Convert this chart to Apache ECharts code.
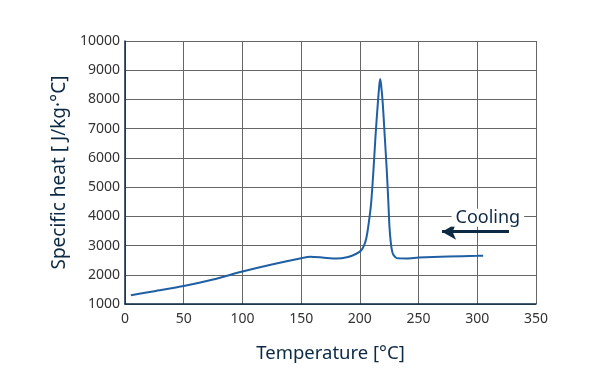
<!DOCTYPE html>
<html>
<head>
<meta charset="utf-8">
<script src="https://cdn.jsdelivr.net/npm/echarts@6/dist/echarts.min.js"></script>
<style>html,body{margin:0;padding:0;background:#fff}#c{width:600px;height:390px}</style>
</head>
<body>
<div id="c"></div>
<script>
var temperature = [5, 25, 50, 75, 100, 125, 150, 158, 168, 180, 190, 197, 201, 203.5, 205.5, 207.5, 209.6, 211.6, 213.3, 215.3, 216.6, 217.3, 218.1, 219.5, 221.2, 222.9, 224.3, 225.2, 226.4, 227.5, 228.6, 231.4, 240, 250, 275, 300, 305];
var specificHeat = [1300, 1440, 1615, 1840, 2110, 2350, 2565, 2615, 2590, 2553, 2610, 2720, 2830, 3000, 3250, 3750, 4450, 5590, 6730, 7870, 8500, 8700, 8500, 7870, 6730, 5590, 4450, 3650, 3080, 2800, 2680, 2570, 2560, 2590, 2625, 2650, 2655];
var arrowFrom = [327, 3476];
var arrowTo = [270, 3476];
var annotationText = 'Cooling';
var annotationAt = [309, 3950];

var navy = '#0d2a45';
var chart = echarts.init(document.getElementById('c'), null, {renderer: 'canvas'});
var pts = temperature.map(function (t, i) { return [t, specificHeat[i]]; });
chart.setOption({
  animation: false,
  textStyle: {fontFamily: 'Noto Sans'},
  grid: {left: 125, right: 64, top: 41, bottom: 86, containLabel: false},
  xAxis: {
    type: 'value', min: 0, max: 350, interval: 50,
    name: 'Temperature [°C]', nameLocation: 'middle', nameGap: 40,
    nameTextStyle: {fontSize: 18.5, color: navy, fontFamily: 'Noto Sans'},
    axisLine: {show: true, lineStyle: {color: navy, width: 1.5}},
    axisTick: {show: false},
    axisLabel: {fontSize: 14, color: '#333', margin: 8, fontFamily: 'Noto Sans',
      formatter: function (v) { return String(v); }},
    splitLine: {show: true, lineStyle: {color: '#666', width: 1}}
  },
  yAxis: {
    type: 'value', min: 1000, max: 10000, interval: 1000,
    name: 'Specific heat [ J/kg·°C]', nameLocation: 'middle', nameGap: 52,
    nameTextStyle: {fontSize: 19, color: navy, fontFamily: 'Noto Sans'},
    axisLine: {show: true, lineStyle: {color: navy, width: 1.5}},
    axisTick: {show: false},
    axisLabel: {fontSize: 14, color: '#333', margin: 5, fontFamily: 'Noto Sans',
      formatter: function (v) { return String(v); }},
    splitLine: {show: true, lineStyle: {color: '#666', width: 1}}
  },
  series: [{
    type: 'line',
    data: pts,
    smooth: 0.25,
    symbol: 'none',
    lineStyle: {color: '#1f5fa3', width: 2},
    markLine: {
      silent: true,
      symbol: ['none', 'arrow'],
      symbolSize: [12, 14],
      lineStyle: {color: navy, width: 3, type: 'solid'},
      label: {show: false},
      data: [[{coord: arrowFrom}, {coord: arrowTo}]]
    },
    markPoint: {
      silent: true,
      symbol: 'rect',
      symbolSize: 0,
      label: {
        show: true, position: 'inside', formatter: annotationText,
        fontSize: 18, color: navy, fontFamily: 'Noto Sans',
        backgroundColor: '#fff', padding: [0, 4]
      },
      data: [{coord: annotationAt}]
    }
  }]
});
</script>
</body>
</html>
